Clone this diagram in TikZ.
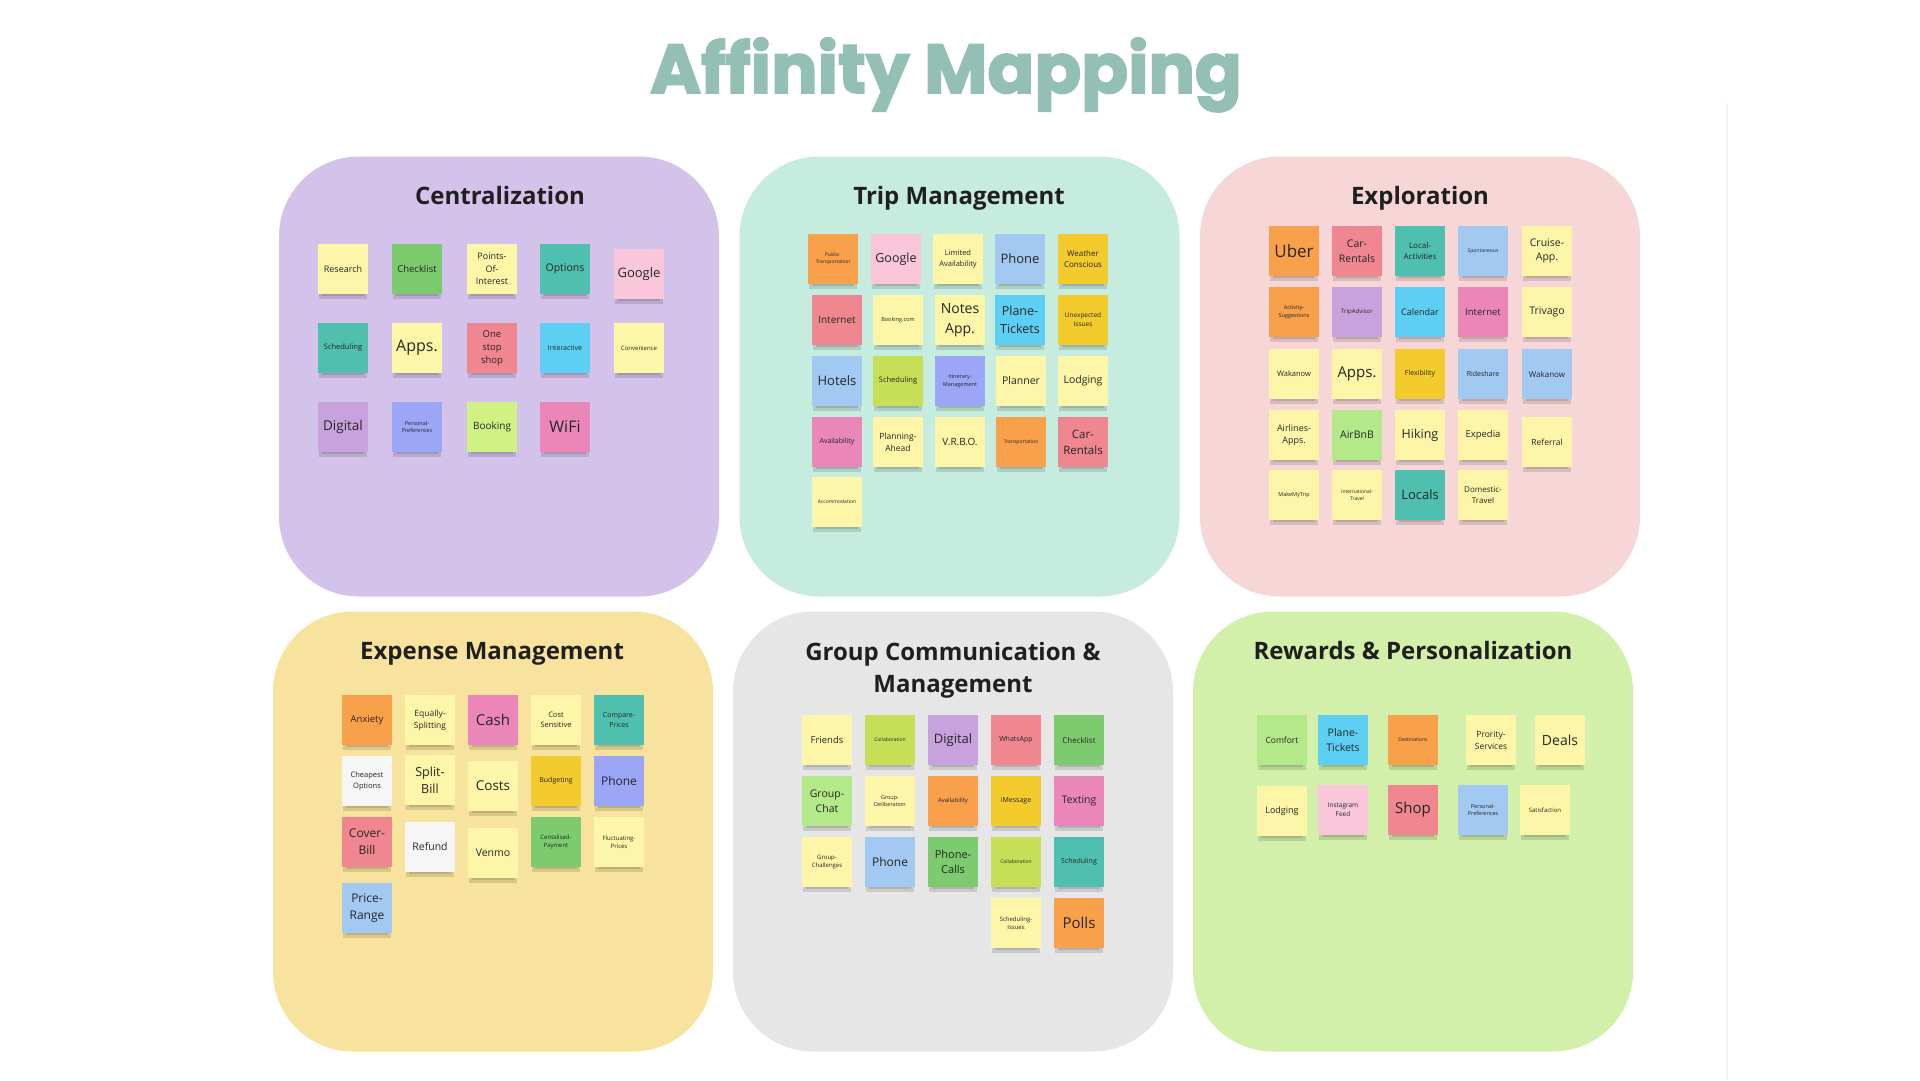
\documentclass[tikz,border=0pt]{standalone}
\usepackage{fontspec}
\setmainfont{Open Sans}
\newfontfamily\titlefont{Poppins}[BoldFeatures={FakeBold=2.5}]
\definecolor{titlec}{HTML}{93BFB4}
\definecolor{pLav}{HTML}{D3C2EA}
\definecolor{pMint}{HTML}{C6EBDF}
\definecolor{pPink}{HTML}{F7D6D7}
\definecolor{pYel}{HTML}{F8E39E}
\definecolor{pGray}{HTML}{E6E6E6}
\definecolor{pGreen}{HTML}{D2F0AA}
\definecolor{Y}{HTML}{FDF6A8}
\definecolor{GREEN}{HTML}{7CCB6E}
\definecolor{TEAL}{HTML}{4FBFB0}
\definecolor{PINKL}{HTML}{F9C6DA}
\definecolor{RED}{HTML}{EF8690}
\definecolor{CYAN}{HTML}{5CCFF2}
\definecolor{MAUVE}{HTML}{C8A2DD}
\definecolor{PERI}{HTML}{9BA6F7}
\definecolor{LIME}{HTML}{D0F285}
\definecolor{LGREEN}{HTML}{B4E98A}
\definecolor{MAG}{HTML}{EA86B8}
\definecolor{ORANGE}{HTML}{F9A04B}
\definecolor{BLUE}{HTML}{A2C9F2}
\definecolor{GOLD}{HTML}{F4CB2D}
\definecolor{OLIVE}{HTML}{C7DF56}
\definecolor{WHITE}{HTML}{F6F6F6}
\newcommand\sfs[1]{\fontsize{#1}{\the\dimexpr #1pt*7/5\relax}\selectfont}
\tikzset{
  panel/.style={rectangle, rounded corners=80pt, minimum width=440, minimum height=440, inner sep=0, draw=none},
  ptitle/.style={font=\bfseries\fontsize{24}{32}\selectfont, text=black!88, align=center},
  sticky/.style={rectangle, minimum width=50, minimum height=50, inner sep=1, align=center, text=black!85},
  shadowc/.style={black, opacity=0.12}
}
\newcommand\stk[6]{%
  \fill[shadowc] (#2-24,#3+21) rectangle (#2+24,#3+30);
  \fill[shadowc] (#2-21,#3+21) rectangle (#2+21,#3+27);
  \node[sticky, fill=#4, font=\sfs{#5}] (#1) at (#2,#3) {#6};}
\begin{document}
\begin{tikzpicture}[x=1pt, y=-1pt]
\useasboundingbox (0,0) rectangle (1920,1080);
\fill[white] (0,0) rectangle (1920,1080);
\draw[black!4, line width=1.5] (1727,103) -- (1727,1080);
\node[font=\titlefont\bfseries\fontsize{69}{75}\selectfont, text=titlec, anchor=base] (title) at (946,93) {Affinity Mapping};
% panels
\node[panel, fill=pLav]  (pCen) at (499,376.5) {};
\node[panel, fill=pMint] (pTrip) at (959.5,376.5) {};
\node[panel, fill=pPink] (pExpl) at (1420,376.5) {};
\node[panel, fill=pYel]  (pExp) at (493,831.5) {};
\node[panel, fill=pGray] (pGrp) at (953,831.5) {};
\node[panel, fill=pGreen] (pRew) at (1413,831.5) {};
\node[ptitle, anchor=base] (tCen) at (500,204) {Centralization};
\node[ptitle, anchor=base] (tTrip) at (959,204) {Trip Management};
\node[ptitle, anchor=base] (tExpl) at (1420,204) {Exploration};
\node[ptitle, anchor=base] (tExp) at (492,659) {Expense Management};
\node[ptitle, anchor=base] (tGrp) at (953,660) {Group Communication \&};
\node[ptitle, anchor=base] (tGrp2) at (953,692) {Management};
\node[ptitle, anchor=base] (tRew) at (1413,659) {Rewards \& Personalization};
% Centralization
\stk{c1}{343}{269}{Y}{9}{Research}
\stk{c2}{417}{269}{GREEN}{9.5}{Checklist}
\stk{c3}{492}{269}{Y}{9}{Points-\\Of-\\Interest}
\stk{c4}{565}{269}{TEAL}{10.5}{Options}
\stk{c5}{639}{274}{PINKL}{13}{Google}
\stk{c6}{343}{348}{TEAL}{7.5}{Scheduling}
\stk{c7}{417}{348}{Y}{16}{Apps.}
\stk{c8}{492}{348}{RED}{9.5}{One\\stop\\shop}
\stk{c9}{565}{348}{CYAN}{7}{Interactive}
\stk{c10}{639}{348}{Y}{6}{Convenience}
\stk{c11}{343}{427}{MAUVE}{13.5}{Digital}
\stk{c12}{417}{427}{PERI}{5.5}{Personal-\\Preferences}
\stk{c13}{492}{427}{LIME}{10}{Booking}
\stk{c14}{565}{427}{MAG}{16}{WiFi}
% Trip Management
\stk{t1}{833}{259}{ORANGE}{5}{Public-\\Transportation}
\stk{t2}{896}{259}{PINKL}{12.5}{Google}
\stk{t3}{958}{259}{Y}{7.5}{Limited\\Availability}
\stk{t4}{1020}{259}{BLUE}{13}{Phone}
\stk{t5}{1083}{259}{GOLD}{8}{Weather\\Conscious}
\stk{t6}{837}{320}{RED}{10}{Internet}
\stk{t7}{898}{320}{Y}{5.5}{Booking.com}
\stk{t8}{960}{320}{Y}{14}{Notes\\App.}
\stk{t9}{1020}{320}{CYAN}{12.5}{Plane-\\Tickets}
\stk{t10}{1083}{320}{GOLD}{6.5}{Unexpected\\Issues}
\stk{t11}{837}{381}{BLUE}{13}{Hotels}
\stk{t12}{898}{381}{OLIVE}{7.5}{Scheduling}
\stk{t13}{960}{381}{PERI}{5.5}{Itinerary-\\Management}
\stk{t14}{1021}{381}{Y}{10.5}{Planner}
\stk{t15}{1083}{381}{Y}{10.5}{Lodging}
\stk{t16}{837}{442}{MAG}{7}{Availability}
\stk{t17}{898}{442}{Y}{8.5}{Planning-\\Ahead}
\stk{t18}{960}{442}{Y}{10}{V.R.B.O.}
\stk{t19}{1021}{442}{ORANGE}{5}{Transportation}
\stk{t20}{1083}{442}{RED}{11.5}{Car-\\Rentals}
\stk{t21}{837}{502}{Y}{5}{Accommodation}
% Exploration
\stk{e1}{1294}{251}{ORANGE}{17}{Uber}
\stk{e2}{1357}{251}{RED}{10.5}{Car-\\Rentals}
\stk{e3}{1420}{251}{TEAL}{8}{Local-\\Activities}
\stk{e4}{1483}{251}{BLUE}{5}{Spontaneous}
\stk{e5}{1547}{251}{Y}{10.5}{Cruise-\\App.}
\stk{e6}{1294}{312}{ORANGE}{5.5}{Activity-\\Suggestions}
\stk{e7}{1357}{312}{MAUVE}{6}{TripAdvisor}
\stk{e8}{1420}{312}{CYAN}{9}{Calendar}
\stk{e9}{1483}{312}{MAG}{9.5}{Internet}
\stk{e10}{1547}{312}{Y}{10.5}{Trivago}
\stk{e11}{1294}{374}{Y}{7.5}{Wakanow}
\stk{e12}{1357}{374}{Y}{15}{Apps.}
\stk{e13}{1420}{374}{GOLD}{7}{Flexibility}
\stk{e14}{1483}{374}{BLUE}{7}{Rideshare}
\stk{e15}{1547}{374}{BLUE}{8}{Wakanow}
\stk{e16}{1294}{435}{Y}{9}{Airlines-\\Apps.}
\stk{e17}{1357}{435}{LGREEN}{10.5}{AirBnB}
\stk{e18}{1420}{435}{Y}{12.5}{Hiking}
\stk{e19}{1483}{435}{Y}{9.5}{Expedia}
\stk{e20}{1547}{442}{Y}{8.5}{Referral}
\stk{e21}{1294}{495}{Y}{5.5}{MakeMyTrip}
\stk{e22}{1357}{495}{Y}{5}{International-\\Travel}
\stk{e23}{1420}{495}{TEAL}{13}{Locals}
\stk{e24}{1483}{495}{Y}{8}{Domestic-\\Travel}
% Expense Management
\stk{x1}{367}{720}{ORANGE}{9.5}{Anxiety}
\stk{x2}{430}{720}{Y}{8.5}{Equally-\\Splitting}
\stk{x3}{493}{720}{MAG}{15}{Cash}
\stk{x4}{556}{720}{Y}{7.5}{Cost\\Sensitive}
\stk{x5}{619}{720}{TEAL}{7}{Compare-\\Prices}
\stk{x6}{367}{781}{WHITE}{7.5}{Cheapest\\Options}
\stk{x7}{430}{780}{Y}{12.5}{Split-\\Bill}
\stk{x8}{493}{786}{Y}{13.5}{Costs}
\stk{x9}{556}{781}{GOLD}{7}{Budgeting}
\stk{x10}{619}{781}{PERI}{12}{Phone}
\stk{x11}{367}{842}{RED}{12}{Cover-\\Bill}
\stk{x12}{430}{847}{WHITE}{10.5}{Refund}
\stk{x13}{493}{853}{Y}{10.5}{Venmo}
\stk{x14}{556}{842}{GREEN}{6}{Centalised-\\Payment}
\stk{x15}{619}{842}{Y}{6}{Fluctuating-\\Prices}
\stk{x16}{367}{908}{BLUE}{12}{Price-\\Range}
% Group Communication
\stk{g1}{827}{740}{Y}{9.5}{Friends}
\stk{g2}{890}{740}{OLIVE}{5}{Collaboration}
\stk{g3}{953}{740}{MAUVE}{13}{Digital}
\stk{g4}{1016}{740}{RED}{7}{WhatsApp}
\stk{g5}{1079}{740}{GREEN}{8}{Checklist}
\stk{g6}{827}{801}{LGREEN}{10.5}{Group-\\Chat}
\stk{g7}{890}{801}{Y}{5.5}{Group-\\Deliberation}
\stk{g8}{953}{801}{ORANGE}{6}{Availability}
\stk{g9}{1016}{801}{GOLD}{7}{iMessage}
\stk{g10}{1079}{801}{MAG}{10.5}{Texting}
\stk{g11}{827}{862}{Y}{6}{Group-\\Challenges}
\stk{g12}{890}{862}{BLUE}{12}{Phone}
\stk{g13}{953}{862}{GREEN}{11}{Phone-\\Calls}
\stk{g14}{1016}{862}{OLIVE}{5}{Collaboration}
\stk{g15}{1079}{862}{TEAL}{7}{Scheduling}
\stk{g16}{1016}{923}{Y}{6}{Scheduling-\\Issues}
\stk{g17}{1079}{923}{ORANGE}{15}{Polls}
% Rewards
\stk{r1}{1282}{740}{LGREEN}{8.5}{Comfort}
\stk{r2}{1343}{740}{CYAN}{10.5}{Plane-\\Tickets}
\stk{r3}{1413}{740}{ORANGE}{5}{Destinations}
\stk{r4}{1491}{740}{Y}{8.5}{Prority-\\Services}
\stk{r5}{1560}{740}{Y}{14}{Deals}
\stk{r6}{1282}{811}{Y}{9}{Lodging}
\stk{r7}{1343}{810}{PINKL}{6.5}{Instagram\\Feed}
\stk{r8}{1413}{810}{RED}{15}{Shop}
\stk{r9}{1483}{810}{BLUE}{5.5}{Personal-\\Preferences}
\stk{r10}{1545}{810}{Y}{6}{Satisfaction}
\end{tikzpicture}
\end{document}
